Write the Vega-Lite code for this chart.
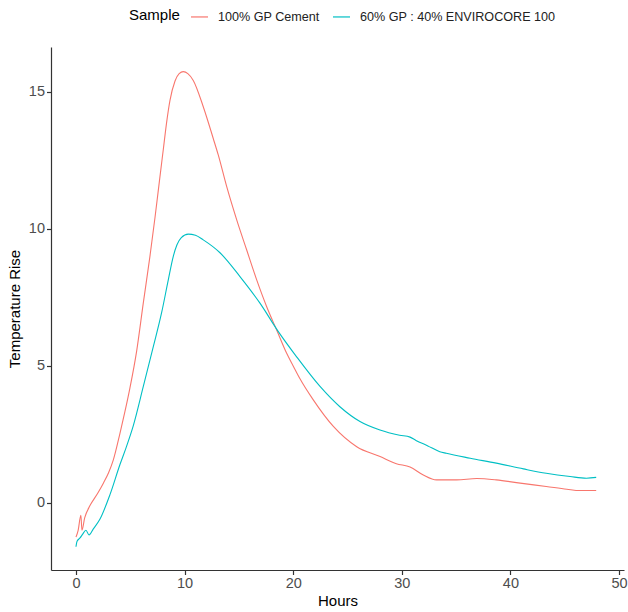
{
  "$schema": "https://vega.github.io/schema/vega-lite/v6.json",
  "width": 573,
  "height": 523,
  "autosize": {"type": "none"},
  "padding": {"left": 51, "top": 47, "right": 4, "bottom": 42},
  "background": "white",
  "config": {
    "font": "Liberation Sans",
    "view": {"stroke": null},
    "axis": {"grid": false, "domainColor": "#333333", "tickColor": "#333333", "labelColor": "#4D4D4D", "labelFontSize": 14.5, "titleFontSize": 15, "titleFontWeight": "normal", "titleColor": "black", "tickSize": 4.5, "domainWidth": 1.2, "tickWidth": 1.2, "labelPadding": 2}
  },
  "data": {"values": [
    {"h": 0, "t": -1.25, "s": "100% GP Cement"},
    {"h": 0.2, "t": -1.0, "s": "100% GP Cement"},
    {"h": 0.45, "t": -0.45, "s": "100% GP Cement"},
    {"h": 0.55, "t": -1.0, "s": "100% GP Cement"},
    {"h": 0.8, "t": -0.55, "s": "100% GP Cement"},
    {"h": 1.29, "t": -0.1, "s": "100% GP Cement"},
    {"h": 2.0, "t": 0.35, "s": "100% GP Cement"},
    {"h": 2.52, "t": 0.72, "s": "100% GP Cement"},
    {"h": 3.0, "t": 1.1, "s": "100% GP Cement"},
    {"h": 3.44, "t": 1.57, "s": "100% GP Cement"},
    {"h": 4.05, "t": 2.54, "s": "100% GP Cement"},
    {"h": 4.5, "t": 3.32, "s": "100% GP Cement"},
    {"h": 4.97, "t": 4.2, "s": "100% GP Cement"},
    {"h": 5.59, "t": 5.55, "s": "100% GP Cement"},
    {"h": 6.2, "t": 7.3, "s": "100% GP Cement"},
    {"h": 6.81, "t": 9.0, "s": "100% GP Cement"},
    {"h": 7.27, "t": 10.4, "s": "100% GP Cement"},
    {"h": 7.73, "t": 11.9, "s": "100% GP Cement"},
    {"h": 8.04, "t": 12.9, "s": "100% GP Cement"},
    {"h": 8.35, "t": 13.9, "s": "100% GP Cement"},
    {"h": 8.66, "t": 14.7, "s": "100% GP Cement"},
    {"h": 9.12, "t": 15.4, "s": "100% GP Cement"},
    {"h": 9.5, "t": 15.67, "s": "100% GP Cement"},
    {"h": 9.88, "t": 15.74, "s": "100% GP Cement"},
    {"h": 10.3, "t": 15.67, "s": "100% GP Cement"},
    {"h": 10.8, "t": 15.42, "s": "100% GP Cement"},
    {"h": 11.72, "t": 14.46, "s": "100% GP Cement"},
    {"h": 12.64, "t": 13.3, "s": "100% GP Cement"},
    {"h": 13.1, "t": 12.7, "s": "100% GP Cement"},
    {"h": 13.88, "t": 11.54, "s": "100% GP Cement"},
    {"h": 14.8, "t": 10.33, "s": "100% GP Cement"},
    {"h": 15.72, "t": 9.23, "s": "100% GP Cement"},
    {"h": 16.64, "t": 8.14, "s": "100% GP Cement"},
    {"h": 17.56, "t": 7.16, "s": "100% GP Cement"},
    {"h": 18.48, "t": 6.31, "s": "100% GP Cement"},
    {"h": 19.4, "t": 5.46, "s": "100% GP Cement"},
    {"h": 20.0, "t": 5.0, "s": "100% GP Cement"},
    {"h": 20.6, "t": 4.55, "s": "100% GP Cement"},
    {"h": 21.85, "t": 3.76, "s": "100% GP Cement"},
    {"h": 23.7, "t": 2.79, "s": "100% GP Cement"},
    {"h": 25.85, "t": 2.05, "s": "100% GP Cement"},
    {"h": 28.0, "t": 1.69, "s": "100% GP Cement"},
    {"h": 29.5, "t": 1.43, "s": "100% GP Cement"},
    {"h": 30.76, "t": 1.31, "s": "100% GP Cement"},
    {"h": 31.98, "t": 1.02, "s": "100% GP Cement"},
    {"h": 33.2, "t": 0.84, "s": "100% GP Cement"},
    {"h": 35.05, "t": 0.84, "s": "100% GP Cement"},
    {"h": 36.9, "t": 0.89, "s": "100% GP Cement"},
    {"h": 38.7, "t": 0.84, "s": "100% GP Cement"},
    {"h": 40.9, "t": 0.72, "s": "100% GP Cement"},
    {"h": 43.3, "t": 0.6, "s": "100% GP Cement"},
    {"h": 45.2, "t": 0.5, "s": "100% GP Cement"},
    {"h": 46.4, "t": 0.45, "s": "100% GP Cement"},
    {"h": 47.9, "t": 0.45, "s": "100% GP Cement"},
    {"h": 0, "t": -1.6, "s": "60% GP : 40% ENVIROCORE 100"},
    {"h": 0.1, "t": -1.4, "s": "60% GP : 40% ENVIROCORE 100"},
    {"h": 0.37, "t": -1.28, "s": "60% GP : 40% ENVIROCORE 100"},
    {"h": 0.6, "t": -1.15, "s": "60% GP : 40% ENVIROCORE 100"},
    {"h": 0.92, "t": -1.0, "s": "60% GP : 40% ENVIROCORE 100"},
    {"h": 1.2, "t": -1.17, "s": "60% GP : 40% ENVIROCORE 100"},
    {"h": 1.6, "t": -0.95, "s": "60% GP : 40% ENVIROCORE 100"},
    {"h": 2.2, "t": -0.6, "s": "60% GP : 40% ENVIROCORE 100"},
    {"h": 3.13, "t": 0.3, "s": "60% GP : 40% ENVIROCORE 100"},
    {"h": 4.05, "t": 1.4, "s": "60% GP : 40% ENVIROCORE 100"},
    {"h": 4.6, "t": 2.0, "s": "60% GP : 40% ENVIROCORE 100"},
    {"h": 5.28, "t": 2.82, "s": "60% GP : 40% ENVIROCORE 100"},
    {"h": 6.2, "t": 4.25, "s": "60% GP : 40% ENVIROCORE 100"},
    {"h": 7.12, "t": 5.7, "s": "60% GP : 40% ENVIROCORE 100"},
    {"h": 7.89, "t": 6.95, "s": "60% GP : 40% ENVIROCORE 100"},
    {"h": 8.5, "t": 8.14, "s": "60% GP : 40% ENVIROCORE 100"},
    {"h": 8.96, "t": 9.0, "s": "60% GP : 40% ENVIROCORE 100"},
    {"h": 9.3, "t": 9.42, "s": "60% GP : 40% ENVIROCORE 100"},
    {"h": 9.7, "t": 9.68, "s": "60% GP : 40% ENVIROCORE 100"},
    {"h": 10.34, "t": 9.81, "s": "60% GP : 40% ENVIROCORE 100"},
    {"h": 11.0, "t": 9.77, "s": "60% GP : 40% ENVIROCORE 100"},
    {"h": 11.72, "t": 9.6, "s": "60% GP : 40% ENVIROCORE 100"},
    {"h": 13.26, "t": 9.13, "s": "60% GP : 40% ENVIROCORE 100"},
    {"h": 15.1, "t": 8.26, "s": "60% GP : 40% ENVIROCORE 100"},
    {"h": 16.94, "t": 7.29, "s": "60% GP : 40% ENVIROCORE 100"},
    {"h": 18.6, "t": 6.27, "s": "60% GP : 40% ENVIROCORE 100"},
    {"h": 20.3, "t": 5.34, "s": "60% GP : 40% ENVIROCORE 100"},
    {"h": 22.47, "t": 4.25, "s": "60% GP : 40% ENVIROCORE 100"},
    {"h": 24.3, "t": 3.51, "s": "60% GP : 40% ENVIROCORE 100"},
    {"h": 26.15, "t": 2.97, "s": "60% GP : 40% ENVIROCORE 100"},
    {"h": 27.99, "t": 2.66, "s": "60% GP : 40% ENVIROCORE 100"},
    {"h": 29.8, "t": 2.47, "s": "60% GP : 40% ENVIROCORE 100"},
    {"h": 30.76, "t": 2.4, "s": "60% GP : 40% ENVIROCORE 100"},
    {"h": 31.3, "t": 2.28, "s": "60% GP : 40% ENVIROCORE 100"},
    {"h": 32.4, "t": 2.08, "s": "60% GP : 40% ENVIROCORE 100"},
    {"h": 33.5, "t": 1.87, "s": "60% GP : 40% ENVIROCORE 100"},
    {"h": 34.1, "t": 1.81, "s": "60% GP : 40% ENVIROCORE 100"},
    {"h": 36.3, "t": 1.63, "s": "60% GP : 40% ENVIROCORE 100"},
    {"h": 38.7, "t": 1.45, "s": "60% GP : 40% ENVIROCORE 100"},
    {"h": 41.2, "t": 1.24, "s": "60% GP : 40% ENVIROCORE 100"},
    {"h": 43.3, "t": 1.08, "s": "60% GP : 40% ENVIROCORE 100"},
    {"h": 45.5, "t": 0.96, "s": "60% GP : 40% ENVIROCORE 100"},
    {"h": 47.0, "t": 0.9, "s": "60% GP : 40% ENVIROCORE 100"},
    {"h": 47.9, "t": 0.93, "s": "60% GP : 40% ENVIROCORE 100"}
  ]},
  "mark": {"type": "line", "strokeWidth": 1.1, "interpolate": "monotone", "clip": true},
  "encoding": {
    "x": {"field": "h", "type": "quantitative", "title": "Hours",
      "scale": {"domain": [-2.3, 50.46], "nice": false, "zero": false},
      "axis": {"values": [0, 10, 20, 30, 40, 50], "titlePadding": 3}},
    "y": {"field": "t", "type": "quantitative", "title": "Temperature Rise",
      "scale": {"domain": [-2.45, 16.64], "nice": false, "zero": false},
      "axis": {"values": [0, 5, 10, 15], "titlePadding": 6}},
    "color": {"field": "s", "type": "nominal", "title": "Sample",
      "scale": {"domain": ["100% GP Cement", "60% GP : 40% ENVIROCORE 100"], "range": ["#F8766D", "#00BFC4"]},
      "legend": {"orient": "none", "legendX": 78, "legendY": -40, "direction": "horizontal", "titleOrient": "left", "symbolType": "stroke", "symbolSize": 290, "symbolStrokeWidth": 1.2, "labelFontSize": 12.6, "labelLimit": 0, "labelOffset": 9, "titleFontSize": 15, "titleFontWeight": "normal", "titleColor": "black", "labelColor": "#222222", "columnPadding": 10, "titlePadding": 10}
    }
  }
}
